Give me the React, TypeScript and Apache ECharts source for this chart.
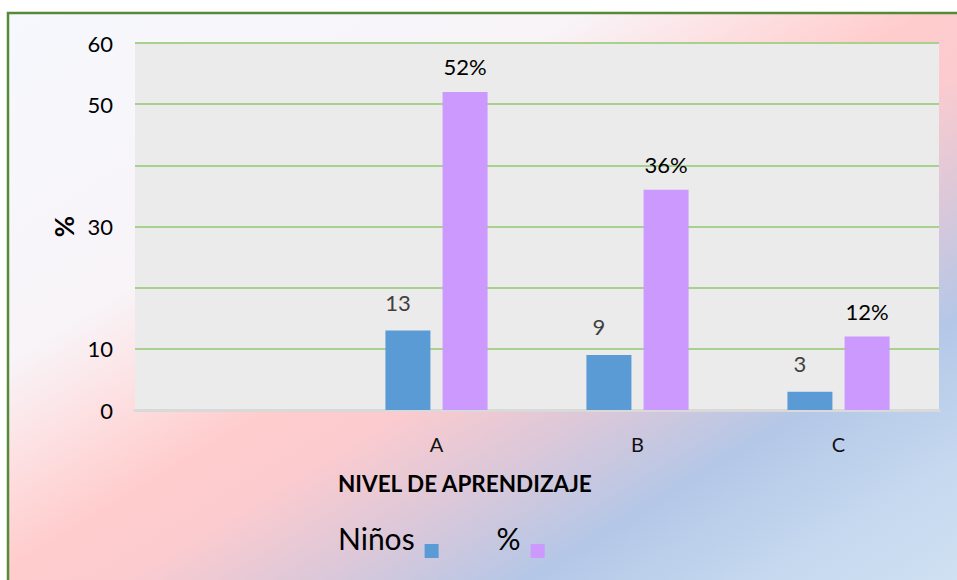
import React, { useEffect, useRef } from "react";
import * as echarts from "echarts";

const categories = ["", "A", "B", "C"];
const ninosValues = [null, 13, 9, 3];
const pctValues = [null, 52, 36, 12];
const shownYTicks = [0, 10, 30, 50, 60];
const seriesNames = ["Niños", "%"];
const xAxisTitle = "NIVEL DE APRENDIZAJE";
const yAxisTitle = "%";

const FONT = 'Lato, "Open Sans", sans-serif';

export default function App() {
  const ref = useRef<HTMLDivElement>(null);
  useEffect(() => {
    document.body.style.margin = "0";
    if (!ref.current) return;
    const chart = echarts.init(ref.current, null, { renderer: "svg" });
    const bg = new echarts.graphic.LinearGradient(
      8,
      13,
      522,
      861,
      [
        { offset: 0, color: "#f6f8fd" },
        { offset: 0.3, color: "#f8f4f8" },
        { offset: 0.39, color: "#fde0e2" },
        { offset: 0.48, color: "#ffcccc" },
        { offset: 0.55, color: "#fbcbcf" },
        { offset: 0.65, color: "#dcc8d9" },
        { offset: 0.76, color: "#b4c7e7" },
        { offset: 0.88, color: "#c5d8ef" },
        { offset: 1, color: "#d0e2f2" },
      ],
      true
    );
    chart.setOption({
      animation: false,
      textStyle: { fontFamily: FONT },
      graphic: [
        {
          type: "rect",
          z: -100,
          silent: true,
          shape: { x: 8, y: 13, width: 980, height: 600 },
          style: { fill: bg, stroke: "#568a38", lineWidth: 2.5 },
        },
        {
          type: "text",
          left: 338,
          top: 472,
          style: {
            text: xAxisTitle,
            fontFamily: FONT,
            fontSize: 22.5,
            fontWeight: "bold",
            fill: "#000",
          },
        },
      ],
      grid: {
        left: 135,
        right: 18,
        top: 43,
        bottom: 170,
        show: true,
        backgroundColor: "#ebebeb",
        borderWidth: 0,
      },
      legend: {
        data: seriesNames,
        left: 338,
        top: 518,
        padding: 0,
        align: "right",
        itemWidth: 14,
        itemHeight: 40,
        itemGap: 58,
        icon: "path://M0,0 h0.01 v0.01 h-0.01 Z M0,26 h14 v14 h-14 Z",
        textStyle: {
          fontFamily: FONT,
          fontSize: 30,
          color: "#000",
          padding: [0, 5, 0, 0],
        },
      },
      xAxis: {
        type: "category",
        data: categories,
        axisTick: { show: false },
        axisLine: { lineStyle: { color: "#d9d9d9", width: 3 } },
        axisLabel: { margin: 24, fontSize: 20, color: "#111", fontFamily: FONT },
      },
      yAxis: {
        type: "value",
        min: 0,
        max: 60,
        interval: 10,
        name: yAxisTitle,
        nameLocation: "middle",
        nameGap: 58,
        nameTextStyle: { fontSize: 26, fontWeight: "bold", color: "#000", fontFamily: FONT },
        axisLine: { show: false },
        axisTick: { show: false },
        splitLine: { lineStyle: { color: "#a9d18e", width: 2 } },
        axisLabel: {
          margin: 22,
          fontSize: 22,
          color: "#000",
          fontFamily: FONT,
          formatter: (v: number) => (shownYTicks.includes(v) ? String(v) : ""),
        },
      },
      series: [
        {
          name: seriesNames[0],
          type: "bar",
          data: ninosValues,
          barWidth: 45,
          barGap: "27%",
          itemStyle: { color: "#5b9bd5" },
          label: {
            show: true,
            position: "top",
            distance: 17,
            offset: [-10, 0],
            fontSize: 22,
            color: "#404040",
            fontFamily: FONT,
          },
        },
        {
          name: seriesNames[1],
          type: "bar",
          data: pctValues,
          barWidth: 45,
          itemStyle: { color: "#cc99ff" },
          label: {
            show: true,
            position: "top",
            distance: 14,
            fontSize: 22,
            color: "#000",
            fontFamily: FONT,
            formatter: "{c}%",
          },
        },
      ],
    });
    return () => chart.dispose();
  }, []);
  return <div ref={ref} style={{ width: 957, height: 580 }} />;
}
